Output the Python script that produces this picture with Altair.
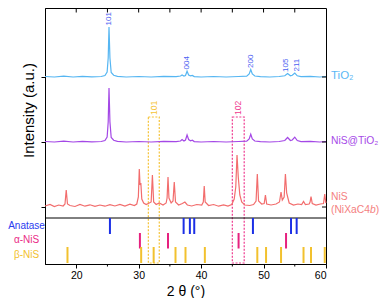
import altair as alt
import pandas as pd

# ---------------- data ----------------
THETA_DOMAIN = [15, 60]

# (2θ, intensity above the pattern's own baseline, arbitrary units)
TIO2 = [(15, 0.5), (16.5, 0), (18, 0.8), (19.5, 0), (21, 0.6), (22.5, 0.2), (24, 0.5),
        (24.6, 1.5), (24.95, 5), (25.12, 19), (25.25, 50), (25.4, 19), (25.6, 4.5), (26, 1.8),
        (26.6, 0.6), (28, 0), (30, 0.5), (32, 0), (34, 0.6), (36, 0.3), (36.7, 1), (36.95, 2),
        (37.25, 1), (37.5, 1.5), (37.75, 5.8), (38.0, 2), (38.3, 1.2), (38.6, 1.6), (38.9, 0.4),
        (40, 0), (42, 0.5), (44, 0), (46, 0.5), (47.3, 0.8), (47.7, 3), (47.95, 7.5), (48.2, 3),
        (48.6, 1), (49.5, 0.3), (51, 0), (52.5, 0.5), (53.4, 1.2), (53.85, 3.5), (54.3, 1.2),
        (54.6, 1.8), (55.0, 4), (55.4, 1.2), (56, 0.4), (57.5, 0.6), (59, 0), (60, 0.5)]

NIS_TIO2 = [(15, 0.5), (16.5, 0), (18, 0.8), (19.5, 0), (21, 0.6), (22.5, 0.2), (24, 0.5),
            (24.6, 1.5), (24.95, 5), (25.12, 20), (25.25, 54), (25.4, 20), (25.6, 4.5), (26, 1.8),
            (26.6, 0.6), (28, 0), (30, 0.5), (32, 0), (34, 0.6), (36, 0.3), (36.7, 1), (36.95, 2.5),
            (37.25, 1), (37.5, 2), (37.75, 7), (38.0, 2.5), (38.3, 1.2), (38.6, 1.8), (38.9, 0.4),
            (40, 0), (42, 0.5), (44, 0), (46, 0.5), (47.3, 0.8), (47.7, 3), (47.95, 7.8), (48.2, 3),
            (48.6, 1), (49.5, 0.3), (51, 0), (52.5, 0.5), (53.4, 1.5), (53.85, 4.5), (54.3, 1.5),
            (54.6, 2), (55.0, 4.8), (55.4, 1.5), (56, 0.4), (57.5, 0.6), (59, 0), (60, 0.5)]

NIS = [(15, 1), (15.8, 2.5), (16.5, 0.5), (17.2, 2), (17.9, 1), (18.2, 3), (18.4, 17), (18.6, 3),
       (19, 1.5), (19.8, 0.5), (20.6, 2.5), (21.4, 0.8), (22.2, 2.2), (23, 0.6), (23.8, 2),
       (24.6, 0.8), (25.4, 2.3), (26.2, 1), (27, 2.5), (27.8, 1), (28.6, 2.8), (29.3, 1.5),
       (29.7, 3), (29.95, 10), (30.1, 38), (30.22, 22), (30.35, 24), (30.5, 8), (30.8, 4),
       (31.2, 2.5), (31.7, 4), (32.0, 5), (32.2, 32), (32.4, 5), (32.8, 2.5), (33.3, 4),
       (33.9, 2), (34.4, 4), (34.55, 9), (34.7, 30), (34.85, 9), (35.2, 4), (35.5, 6),
       (35.7, 25), (35.9, 5), (36.4, 2), (37.0, 3.5), (37.4, 5), (37.8, 2), (38.5, 1),
       (39.3, 2.5), (40.1, 2), (40.35, 5), (40.5, 21), (40.65, 5), (41.2, 1.5), (42, 2.5),
       (42.8, 0.8), (43.6, 2.2), (44.3, 1), (44.9, 2.5), (45.3, 8), (45.55, 20), (45.75, 52),
       (45.95, 30), (46.2, 12), (46.5, 5), (47, 2), (47.8, 1.5), (48.4, 2.5), (48.8, 6),
       (49.0, 33), (49.2, 6), (49.7, 3), (50.1, 3.5), (50.3, 12), (50.5, 3), (51.2, 2), (52, 3),
       (52.55, 5), (52.8, 15), (53.0, 7), (53.3, 10), (53.5, 33), (53.7, 14), (54.1, 4),
       (54.8, 2), (55.5, 3), (56.1, 2.5), (56.4, 5.5), (56.7, 2.5), (57.3, 3), (57.45, 5),
       (57.6, 10.5), (57.8, 3.5), (58.4, 2), (59.1, 3), (59.6, 3.5), (59.8, 13), (59.95, 5),
       (60, 4)]

SERIES = ["NiS", "NiS@TiO2", "TiO2"]
SERIES_LABELS = ["NiS", "NiS@TiO\u2082", "TiO\u2082"]
SERIES_COLORS = ["#f26d6d", "#a448e6", "#56b6f2"]
LABEL_COLORS = ["#f47f7f", "#a64ae8", "#5bb8f5"]
LABEL_SIZES = [10.3, 10.3, 11.5]

ANATASE_REF = [25.4, 37.2, 38.2, 38.9, 48.3, 54.4, 55.3]
ALPHA_NIS_REF = [30.2, 34.7, 46.0, 53.6]
BETA_NIS_REF = [18.6, 30.4, 32.4, 35.9, 37.5, 40.6, 49.0, 50.4, 52.8, 56.4, 57.6, 59.8]
REF_NAMES = ["Anatase", "\u03b1-NiS", "\u03b2-NiS"]
REF_COLORS = ["#1b2fe6", "#e6217f", "#f2c12e"]
REF_TEXT_COLORS = ["#2a3cf0", "#ea2a86", "#f2c12e"]

HKL_LABELS = ["101", "004", "200", "105", "211"]
HKL_POS = [25.25, 37.75, 47.95, 53.55, 55.35]
HKL_HEIGHT = [50, 6, 7.5, 3.5, 4]

BOX_LABELS = ["101", "102"]
BOX_LEFT = [31.55, 45.0]
BOX_RIGHT = [33.3, 46.9]
BOX_COLORS = ["#f5c338", "#ef3a8f"]

X_MAJOR = [20, 30, 40, 50, 60]
X_MINOR = [25, 35, 45, 55]
X_TOP = [20, 25, 30, 35, 40, 45, 50, 55]

# ---------------- layout (vertical units = pixels above the bottom axis) ----------------
W, H = 281, 256
SEP = 46
BASE = {"NiS": 57, "NiS@TiO2": 122, "TiO2": 187}
ROWS = [(30, 46), (15.5, 31), (1, 17)]
BOX_TOP, BOX_BOTTOM = 147, 1
FONT = "Liberation Sans"

xs = alt.Scale(domain=THETA_DOMAIN, nice=False, zero=False)
ys = alt.Scale(domain=[0, H], nice=False, zero=False)

rows = []
for s, pat, c in zip(SERIES, [NIS, NIS_TIO2, TIO2], SERIES_COLORS):
    for i, (a, b) in enumerate(pat):
        rows.append({"x": a, "y": BASE[s] + b, "series": s, "idx": i, "c": c})
lines_df = pd.DataFrame(rows)

lines = alt.Chart(lines_df).mark_line(strokeWidth=1.2).encode(
    x=alt.X("x:Q", scale=xs,
            axis=alt.Axis(values=X_MAJOR, format="d", tickSize=4, labelPadding=2,
                          labelFontSize=10.5, title="2 \u03b8 (\u00b0)", titleFontSize=14,
                          titleY=31, titleBaseline="alphabetic")),
    y=alt.Y("y:Q", scale=ys,
            axis=alt.Axis(values=list(BASE.values()), labels=False, tickSize=4,
                          title="Intensity (a.u.)", titleX=-17, titleY=102, titleAngle=270,
                          titleAlign="center", titleBaseline="middle")),
    detail="series:N",
    color=alt.Color("c:N", scale=None),
    order="idx:Q",
)

sep = alt.Chart(pd.DataFrame({"y": [SEP]})).mark_rule(color="black", strokeWidth=1).encode(
    y=alt.Y("y:Q", scale=ys))

ref_rows = []
for name, vals, (lo, hi), c in zip(REF_NAMES, [ANATASE_REF, ALPHA_NIS_REF, BETA_NIS_REF], ROWS,
                                   REF_COLORS):
    for v in vals:
        ref_rows.append({"x": v, "y": hi, "y2": lo, "c": c})
ref_df = pd.DataFrame(ref_rows)
ref_ticks = alt.Chart(ref_df).mark_rule(strokeWidth=2).encode(
    x=alt.X("x:Q", scale=xs),
    y=alt.Y("y:Q", scale=ys), y2="y2:Q",
    color=alt.Color("c:N", scale=None))

ref_lab_df = pd.DataFrame({"name": REF_NAMES, "x": [THETA_DOMAIN[0]] * 3,
                           "y": [(lo + hi) / 2 + 0.5 for lo, hi in ROWS], "c": REF_TEXT_COLORS})
ref_labels = alt.Chart(ref_lab_df).mark_text(font=FONT, fontSize=10, align="center",
                                              baseline="middle", dx=-18.5).encode(
    x=alt.X("x:Q", scale=xs), y=alt.Y("y:Q", scale=ys),
    text="name:N", color=alt.Color("c:N", scale=None))

box_df = pd.DataFrame({"x": BOX_LEFT, "x2": BOX_RIGHT, "y": [BOX_TOP] * 2, "y2": [BOX_BOTTOM] * 2,
                       "c": BOX_COLORS, "lab": BOX_LABELS,
                       "xm": [(a + b) / 2 for a, b in zip(BOX_LEFT, BOX_RIGHT)],
                       "ylab": [BOX_TOP + 2] * 2})
boxes = alt.Chart(box_df).mark_rect(filled=False, strokeWidth=1.2, strokeDash=[2, 1.5]).encode(
    x=alt.X("x:Q", scale=xs), x2="x2:Q",
    y=alt.Y("y:Q", scale=ys), y2="y2:Q",
    stroke=alt.Color("c:N", scale=None))
box_labels = alt.Chart(box_df).mark_text(font=FONT, fontSize=8.5, angle=270, align="left",
                                         baseline="middle").encode(
    x=alt.X("xm:Q", scale=xs), y=alt.Y("ylab:Q", scale=ys),
    text="lab:N", color=alt.Color("c:N", scale=None))

hkl_df = pd.DataFrame({"x": HKL_POS, "y": [BASE["TiO2"] + h + 1.5 for h in HKL_HEIGHT],
                       "lab": HKL_LABELS})
hkl = alt.Chart(hkl_df).mark_text(font=FONT, fontSize=8, angle=270, align="left",
                                  baseline="middle", color="#4b5ef2").encode(
    x=alt.X("x:Q", scale=xs), y=alt.Y("y:Q", scale=ys), text="lab:N")

right_df = pd.DataFrame({"x": [THETA_DOMAIN[1]] * 3,
                         "y": [BASE["NiS"] + 10.5, BASE["NiS@TiO2"] + 1.5, BASE["TiO2"] + 1],
                         "lab": SERIES_LABELS, "c": LABEL_COLORS, "fs": LABEL_SIZES})
right_labels = alt.Chart(right_df).mark_text(font=FONT, align="left",
                                             baseline="middle", dx=5).encode(
    x=alt.X("x:Q", scale=xs), y=alt.Y("y:Q", scale=ys),
    text="lab:N", color=alt.Color("c:N", scale=None), size=alt.Size("fs:Q", scale=None))

sub_parts = ["(NiXaC4", "b", ")"]
sub_df = pd.DataFrame({"x": [THETA_DOMAIN[1]] * 3, "y": [BASE["NiS"] - 3] * 3, "t": sub_parts})
sub_color = LABEL_COLORS[0]
SUB_FS = 10.3
w1 = 3.778 * SUB_FS
w2 = 0.556 * SUB_FS
sub1 = alt.Chart(sub_df.iloc[[0]]).mark_text(font=FONT, fontSize=SUB_FS, align="left",
                                             baseline="middle", dx=5, color=sub_color).encode(
    x=alt.X("x:Q", scale=xs), y=alt.Y("y:Q", scale=ys), text="t:N")
sub2 = alt.Chart(sub_df.iloc[[1]]).mark_text(font=FONT, fontSize=SUB_FS, align="left",
                                             baseline="middle", dx=5 + w1, fontStyle="italic",
                                             color=sub_color).encode(
    x=alt.X("x:Q", scale=xs), y=alt.Y("y:Q", scale=ys), text="t:N")
sub3 = alt.Chart(sub_df.iloc[[2]]).mark_text(font=FONT, fontSize=SUB_FS, align="left",
                                             baseline="middle", dx=5 + w1 + w2,
                                             color=sub_color).encode(
    x=alt.X("x:Q", scale=xs), y=alt.Y("y:Q", scale=ys), text="t:N")

top_ticks = alt.Chart(pd.DataFrame({"x": X_TOP})).mark_rule(color="black").encode(
    x=alt.X("x:Q", scale=xs), y=alt.value(0), y2=alt.value(4.5))
minor_ticks = alt.Chart(pd.DataFrame({"x": X_MINOR})).mark_rule(color="black").encode(
    x=alt.X("x:Q", scale=xs), y=alt.value(H), y2=alt.value(H + 2.5))
right_ticks = alt.Chart(pd.DataFrame({"y": list(BASE.values())})).mark_rule(color="black").encode(
    x=alt.value(W), x2=alt.value(W - 4), y=alt.Y("y:Q", scale=ys))

chart = alt.layer(
    boxes, lines, sep, ref_ticks, ref_labels, box_labels, hkl, right_labels,
    sub1, sub2, sub3, top_ticks, minor_ticks, right_ticks,
).properties(
    width=W, height=H,
    padding={"left": 37, "top": 0, "right": 54, "bottom": 34},
    autosize=alt.AutoSizeParams(type="none"),
).configure_view(stroke="black", strokeWidth=1).configure_axis(
    domainColor="black", tickColor="black", labelColor="black", titleColor="black",
    labelFont=FONT, titleFont=FONT, labelFontSize=11, titleFontSize=15,
    titleFontWeight="normal", grid=False,
).configure_text(font=FONT)

chart.save("out.html", embed_options={"renderer": "svg", "actions": False})
